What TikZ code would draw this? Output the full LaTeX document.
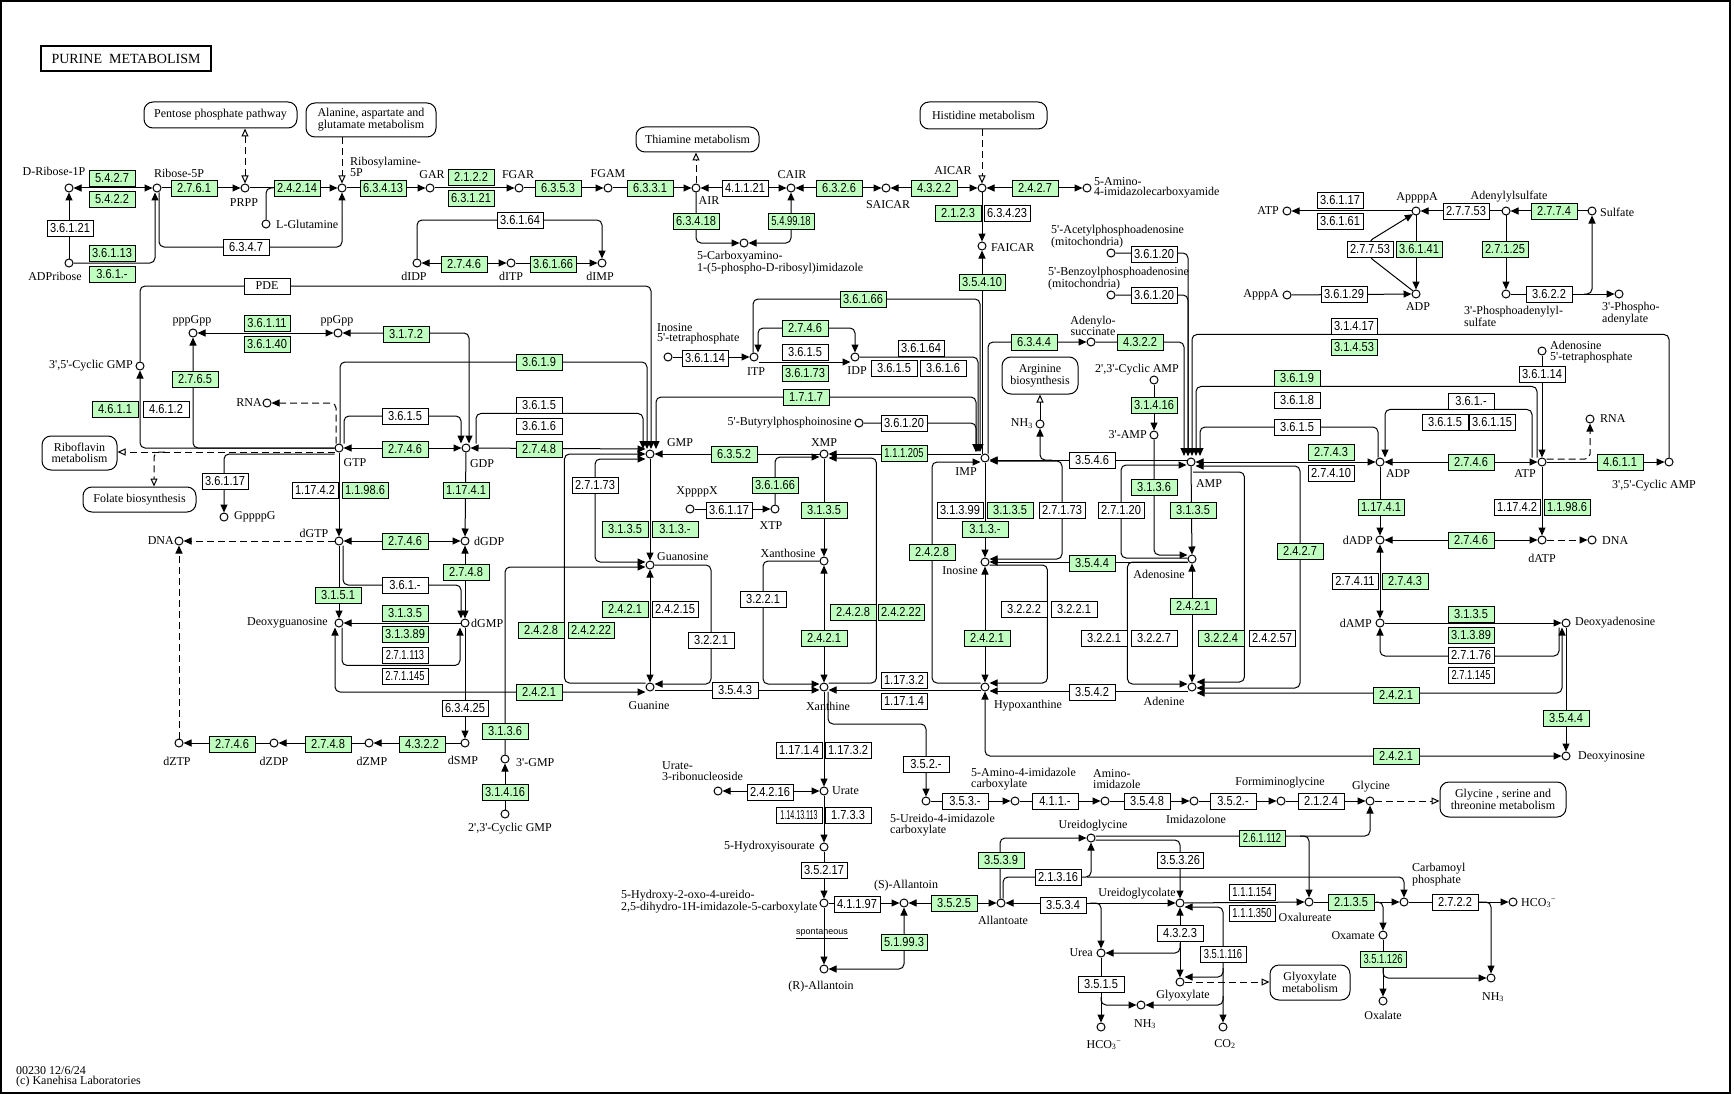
\documentclass[tikz,border=0pt]{standalone}
\usepackage{fontspec}
\setmainfont{Liberation Serif}[Ligatures=TeXOff]
\newfontfamily\ecfam[FakeStretch=0.85]{Liberation Sans}
\newfontfamily\ecfamn[FakeStretch=0.72]{Liberation Sans}
\newfontfamily\ecfamnn[FakeStretch=0.55]{Liberation Sans}
\newfontfamily\sansfam{Liberation Sans}
\usetikzlibrary{arrows.meta}
\definecolor{kgreen}{RGB}{191,255,191}
\pgfdeclarelayer{bg}
\pgfsetlayers{bg,main}
\newcommand\kc[3]{\node[cpd] (#1) at (#2,#3) {};}
\newcommand\kl[5]{\node[lbl,anchor=#4] (#1) at (#2,#3) {#5};}
\newcommand\ke[5]{\node[#4] (#1) at (#2,#3) {#5};}
\tikzset{
 cpd/.style={circle,draw,line width=1pt,fill=white,minimum size=8pt,inner sep=0pt},
 lbl/.style={inner sep=0pt,font=\fontsize{12}{10.5}\selectfont,align=center},
 ecb/.style={draw,line width=0.9pt,minimum width=46pt,minimum height=16pt,inner sep=0pt,font=\fontsize{13}{13}\ecfam},
 eg/.style={ecb,fill=kgreen},
 ew/.style={ecb,fill=white},
 n1/.style={font=\fontsize{13}{13}\ecfamn},
 n2/.style={font=\fontsize{13}{13}\ecfamnn},
 map/.style={draw,line width=1pt,rounded corners=9pt,fill=white,inner sep=0pt,align=center,font=\fontsize{12}{10.5}\selectfont},
 rc/.style={rounded corners=5pt},
 dsh/.style={dash pattern=on 7pt off 4pt},
 mapar/.style={-{Triangle[open,length=8pt,width=7pt]}},
 mapar2/.style={{Triangle[open,length=8pt,width=7pt]}-{Triangle[open,length=8pt,width=7pt]}},
 >={Triangle[length=8pt,width=7pt]}
}
\begin{document}
\begin{tikzpicture}[x=1pt,y=-1pt]
\useasboundingbox (0,0) rectangle (1734,1094);
\draw[line width=1.5pt] (1,1) rectangle (1730,1093);
\node[draw,line width=2pt,minimum width=170pt,minimum height=25pt,inner sep=0pt,font=\fontsize{14}{14}\selectfont] (title) at (126,58.5) {PURINE\ \ METABOLISM};
\node[lbl,anchor=west,align=left] (foot) at (16,1077) {00230 12/6/24\\(c) Kanehisa Laboratories};
% maps
\node[map,minimum width=153pt,minimum height=26pt] (ppp) at (220.5,115) {Pentose phosphate pathway};
\node[map,minimum width=130pt,minimum height=34pt] (ala) at (371,120) {Alanine, aspartate and\\glutamate metabolism};
\node[map,minimum width=123pt,minimum height=25pt] (thi) at (697.5,139.5) {Thiamine metabolism};
\node[map,minimum width=127pt,minimum height=27pt] (his) at (983.5,115.5) {Histidine metabolism};
\node[map,minimum width=75pt,minimum height=34pt] (ribo) at (79.5,453) {Riboflavin\\metabolism};
\node[map,minimum width=113pt,minimum height=25pt] (fol) at (139.5,499.5) {Folate biosynthesis};
\node[map,minimum width=76pt,minimum height=37pt] (arg) at (1040,375.5) {Arginine\\biosynthesis};
\node[map,minimum width=126pt,minimum height=35pt] (glym) at (1503,799.5) {Glycine , serine and\\threonine metabolism};
\node[map,minimum width=80pt,minimum height=35pt] (glx) at (1310,982.5) {Glyoxylate\\metabolism};
% compounds
\kc{dr1p}{69}{188} \kl{dr1pL}{54}{171}{center}{D-Ribose-1P}
\kc{r5p}{157}{188} \kl{r5pL}{179}{173}{center}{Ribose-5P}
\kc{prpp}{245}{188} \kl{prppL}{244}{203}{center}{PRPP}
\kc{ra5p}{342}{188} \kl{ra5pL}{350}{167}{west,align=left}{Ribosylamine-\\5P}
\kc{lglut}{266}{224} \kl{lglutL}{276}{224}{west}{L-Glutamine}
\kc{gar}{430}{188} \kl{garL}{432}{175}{center}{GAR}
\kc{fgar}{519}{188} \kl{fgarL}{518}{175}{center}{FGAR}
\kc{fgam}{608}{188} \kl{fgamL}{608}{174}{center}{FGAM}
\kc{air}{696}{188} \kl{airL}{709}{201}{center}{AIR}
\kc{cair}{791}{188} \kl{cairL}{792}{175}{center}{CAIR}
\kc{saicar}{886}{188} \kl{saicarL}{888}{205}{center}{SAICAR}
\kc{aicar}{982}{188} \kl{aicarL}{953}{171}{center}{AICAR}
\kc{aica}{1087}{188} \kl{aicaL}{1094}{188}{west,align=left}{5-Amino-\\4-imidazolecarboxyamide}
\kc{faicar}{982}{246} \kl{faicarL}{991}{248}{west}{FAICAR}
\kc{caair}{744}{243} \kl{caairL}{697}{263}{west,align=left}{5-Carboxyamino-\\1-(5-phospho-D-ribosyl)imidazole}
\kc{adpr}{69}{263} \kl{adprL}{55}{276}{center}{ADPribose}
\kc{didp}{417}{263} \kl{didpL}{414}{276}{center}{dIDP}
\kc{ditp}{511}{263} \kl{ditpL}{511}{276}{center}{dITP}
\kc{dimp}{602}{263} \kl{dimpL}{600}{276}{center}{dIMP}
\kc{pppgpp}{193}{333} \kl{pppgppL}{192}{321}{center}{pppGpp}
\kc{ppgpp}{338}{333} \kl{ppgppL}{337}{321}{center}{ppGpp}
\kc{cgmp}{140}{366} \kl{cgmpL}{133}{366}{east}{3',5'-Cyclic GMP}
\kc{rnaA}{267}{403} \kl{rnaAL}{262}{403}{east}{RNA}
\kc{gtp}{339}{448} \kl{gtpL}{355}{463}{center}{GTP}
\kc{gdp}{466}{448} \kl{gdpL}{482}{464}{center}{GDP}
\kc{gppppg}{224}{517} \kl{gppppgL}{234}{517}{west}{GppppG}
\kc{dgtp}{339}{541} \kl{dgtpL}{314}{533}{center}{dGTP}
\kc{dnaA}{179}{541} \kl{dnaAL}{174}{541}{east}{DNA}
\kc{dgdp}{465}{541} \kl{dgdpL}{474}{541}{west}{dGDP}
\kc{dgua}{339}{623} \kl{dguaL}{328}{623}{east}{Deoxyguanosine}
\kc{dgmp}{465}{623} \kl{dgmpL}{471}{623}{west}{dGMP}
\kc{gmp}{650}{454} \kl{gmpL}{680}{443}{center}{GMP}
\kc{guo}{650}{565} \kl{guoL}{657}{557}{west}{Guanosine}
\kc{gua}{650}{687} \kl{guaL}{649}{706}{center}{Guanine}
\kc{xmp}{824}{454} \kl{xmpL}{824}{443}{center}{XMP}
\kc{xtp}{775}{509} \kl{xtpL}{771}{526}{center}{XTP}
\kc{xppppx}{690}{509} \kl{xppppxL}{697}{492}{center}{XppppX}
\kc{xao}{824}{561} \kl{xaoL}{788}{553}{center}{Xanthosine}
\kc{xan}{824}{687} \kl{xanL}{828}{706}{center}{Xanthine}
\kc{itpf}{668}{357} \kl{itpfL}{657}{334}{west,align=left}{Inosine\\5'-tetraphosphate}
\kc{itp}{754}{357} \kl{itpL}{756}{372}{center}{ITP}
\kc{idp}{855}{357} \kl{idpL}{857}{371}{center}{IDP}
\kc{bpi}{859}{423} \kl{bpiL}{852}{423}{east}{5'-Butyrylphosphoinosine}
\kc{imp}{985}{458} \kl{impL}{966}{472}{center}{IMP}
\kc{ino}{985}{562} \kl{inoL}{960}{571}{center}{Inosine}
\kc{hyp}{985}{687} \kl{hypL}{1028}{706}{center}{Hypoxanthine}
\kc{nhA}{1040}{424} \kl{nhAL}{1033}{424}{east}{NH\textsubscript{3}}
\kc{campb}{1154}{380} \kl{campbL}{1137}{370}{center}{2',3'-Cyclic AMP}
\kc{ampt}{1154}{435} \kl{amptL}{1147}{435}{east}{3'-AMP}
\kc{amp}{1191}{462} \kl{ampL}{1209}{484}{center}{AMP}
\kc{ado}{1192}{559} \kl{adoL}{1159}{574}{center}{Adenosine}
\kc{ade}{1192}{687} \kl{adeL}{1164}{701}{center}{Adenine}
\kc{adsucc}{1091}{342} \kl{adsuccL}{1093}{326}{center}{Adenylo-\\succinate}
\kc{acpa}{1111}{253} \kl{acpaL}{1051}{237}{west,align=left}{5'-Acetylphosphoadenosine\\(mitochondria)}
\kc{bzpa}{1111}{295} \kl{bzpaL}{1048}{279}{west,align=left}{5'-Benzoylphosphoadenosine\\(mitochondria)}
\kc{atpA}{1287}{211} \kl{atpAL}{1279}{211}{east}{ATP}
\kc{appppa}{1416}{211} \kl{appppaL}{1417}{198}{center}{AppppA}
\kc{aps}{1506}{211} \kl{apsL}{1509}{197}{center}{Adenylylsulfate}
\kc{sulf}{1592}{211} \kl{sulfL}{1600}{212}{west}{Sulfate}
\kc{apppa}{1287}{295} \kl{apppaL}{1279}{295}{east}{ApppA}
\kc{adpA}{1416}{294} \kl{adpAL}{1418}{307}{center}{ADP}
\kc{paps}{1506}{294} \kl{papsL}{1464}{316}{west,align=left}{3'-Phosphoadenylyl-\\sulfate}
\kc{pap}{1619}{294} \kl{papL}{1602}{314}{west,align=left}{3'-Phospho-\\adenylate}
\kc{apf}{1542}{351} \kl{apfL}{1550}{352}{west,align=left}{Adenosine\\5'-tetraphosphate}
\kc{adp}{1380}{462} \kl{adpL}{1398}{474}{center}{ADP}
\kc{atp}{1542}{462} \kl{atpL}{1525}{474}{center}{ATP}
\kc{rnaB}{1590}{419} \kl{rnaBL}{1600}{419}{west}{RNA}
\kc{camp}{1669}{462} \kl{campL}{1654}{486}{center}{3',5'-Cyclic AMP}
\kc{dadp}{1380}{540} \kl{dadpL}{1373}{540}{east}{dADP}
\kc{datp}{1542}{540} \kl{datpL}{1542}{558}{center}{dATP}
\kc{dnaB}{1592}{540} \kl{dnaBL}{1602}{541}{west}{DNA}
\kc{damp}{1380}{623} \kl{dampL}{1372}{623}{east}{dAMP}
\kc{dado}{1566}{623} \kl{dadoL}{1575}{623}{west}{Deoxyadenosine}
\kc{dino}{1566}{756} \kl{dinoL}{1578}{757}{west}{Deoxyinosine}
\kc{dztp}{179}{743} \kl{dztpL}{177}{761}{center}{dZTP}
\kc{dzdp}{274}{743} \kl{dzdpL}{274}{761}{center}{dZDP}
\kc{dzmp}{369}{743} \kl{dzmpL}{372}{761}{center}{dZMP}
\kc{dsmp}{465}{743} \kl{dsmpL}{463}{760}{center}{dSMP}
\kc{gmpt}{505}{759} \kl{gmptL}{516}{763}{west}{3'-GMP}
\kc{cgmpb}{505}{814} \kl{cgmpbL}{510}{829}{center}{2',3'-Cyclic GMP}
\kc{urate}{824}{791} \kl{urateL}{832}{791}{west}{Urate}
\kc{utr}{718}{791} \kl{utrL}{662}{771}{west,align=left}{Urate-\\3-ribonucleoside}
\kc{hiu}{824}{847} \kl{hiuL}{815}{847}{east}{5-Hydroxyisourate}
\kc{ohcu}{824}{903} \kl{ohcuL}{621}{902}{west,align=left}{5-Hydroxy-2-oxo-4-ureido-\\2,5-dihydro-1H-imidazole-5-carboxylate}
\kc{rall}{824}{969} \kl{rallL}{821}{987}{center}{(R)-Allantoin}
\kc{sall}{904}{903} \kl{sallL}{906}{886}{center}{(S)-Allantoin}
\kc{uic}{926}{801} \kl{uicL}{890}{825}{west,align=left}{5-Ureido-4-imidazole\\carboxylate}
\kc{aic}{1015}{801} \kl{aicL}{971}{779}{west,align=left}{5-Amino-4-imidazole\\carboxylate}
\kc{aimid}{1105}{801} \kl{aimidL}{1093}{779}{west,align=left}{Amino-\\imidazole}
\kc{imidz}{1194}{801} \kl{imidzL}{1196}{819}{center}{Imidazolone}
\kc{fgly}{1281}{801} \kl{fglyL}{1280}{783}{center}{Formiminoglycine}
\kc{gly}{1370}{801} \kl{glyL}{1371}{787}{center}{Glycine}
\kc{ugly}{1091}{838} \kl{uglyL}{1093}{826}{center}{Ureidoglycine}
\kc{allt}{1001}{903} \kl{alltL}{1003}{920}{center}{Allantoate}
\kc{uglc}{1180}{903} \kl{uglcL}{1137}{894}{center}{Ureidoglycolate}
\kc{urea}{1101}{953} \kl{ureaL}{1093}{953}{east}{Urea}
\kc{glyox}{1180}{982} \kl{glyoxL}{1183}{996}{center}{Glyoxylate}
\kc{nhB}{1141}{1005} \kl{nhBL}{1145}{1024}{center}{NH\textsubscript{3}}
\kc{hcoA}{1101}{1027} \kl{hcoAL}{1104}{1045}{center}{HCO\textsubscript{3}\textsuperscript{−}}
\kc{co}{1223}{1027} \kl{coL}{1225}{1044}{center}{CO\textsubscript{2}}
\kc{oxalu}{1309}{902} \kl{oxaluL}{1305}{917}{center}{Oxalureate}
\kc{carbp}{1404}{902} \kl{carbpL}{1412}{875}{west,align=left}{Carbamoyl\\phosphate}
\kc{hcoB}{1513}{902} \kl{hcoBL}{1521}{903}{west}{HCO\textsubscript{3}\textsuperscript{−}}
\kc{oxam}{1383}{935} \kl{oxamL}{1375}{936}{east}{Oxamate}
\kc{oxal}{1383}{1001} \kl{oxalL}{1383}{1015}{center}{Oxalate}
\kc{nhC}{1491}{978} \kl{nhCL}{1493}{997}{center}{NH\textsubscript{3}}
% enzymes
\ke{e1}{112}{178}{eg}{5.4.2.7}
\ke{e2}{112}{199}{eg}{5.4.2.2}
\ke{e3}{194}{188}{eg}{2.7.6.1}
\ke{e4}{297}{188}{eg}{2.4.2.14}
\ke{e5}{383}{188}{eg}{6.3.4.13}
\ke{e6}{471}{177}{eg}{2.1.2.2}
\ke{e7}{471}{198}{eg}{6.3.1.21}
\ke{e8}{558}{188}{eg}{6.3.5.3}
\ke{e9}{650}{188}{eg}{6.3.3.1}
\ke{e10}{745}{188}{ew}{4.1.1.21}
\ke{e11}{839}{188}{eg}{6.3.2.6}
\ke{e12}{934}{188}{eg}{4.3.2.2}
\ke{e13}{1035}{188}{eg}{2.4.2.7}
\ke{e14}{958}{213}{eg}{2.1.2.3}
\ke{e15}{1007}{213}{ew}{6.3.4.23}
\ke{e16}{696}{221}{eg}{6.3.4.18}
\ke{e17}{791}{221}{eg,n1}{5.4.99.18}
\ke{e18}{70}{228}{ew}{3.6.1.21}
\ke{e19}{112}{253}{eg}{3.6.1.13}
\ke{e20}{112}{274}{eg}{3.6.1.-}
\ke{e21}{246}{247}{ew}{6.3.4.7}
\ke{e22}{520}{220}{ew}{3.6.1.64}
\ke{e23}{464}{264}{eg}{2.7.4.6}
\ke{e24}{553}{264}{eg}{3.6.1.66}
\ke{e25}{982}{282}{eg}{3.5.4.10}
\ke{e26}{1154}{254}{ew}{3.6.1.20}
\ke{e27}{1154}{295}{ew}{3.6.1.20}
\ke{e28}{1034}{342}{eg}{6.3.4.4}
\ke{e29}{1140}{342}{eg}{4.3.2.2}
\ke{e30}{1340}{200}{ew}{3.6.1.17}
\ke{e31}{1340}{221}{ew}{3.6.1.61}
\ke{e32}{1466}{211}{ew}{2.7.7.53}
\ke{e33}{1554}{211}{eg}{2.7.7.4}
\ke{e34}{1370}{249}{ew}{2.7.7.53}
\ke{e35}{1419}{249}{eg}{3.6.1.41}
\ke{e36}{1505}{249}{eg}{2.7.1.25}
\ke{e37}{1344}{294}{ew}{3.6.1.29}
\ke{e38}{1549}{294}{ew}{3.6.2.2}
\ke{e39}{1354}{326}{ew}{3.1.4.17}
\ke{e40}{1354}{347}{eg}{3.1.4.53}
\node[ew,font=\fontsize{12}{12}\selectfont] (pde) at (267,286) {PDE};
\ke{e41}{267}{323}{eg}{3.6.1.11}
\ke{e42}{267}{344}{eg}{3.6.1.40}
\ke{e43}{406}{334}{eg}{3.1.7.2}
\ke{e44}{863}{299}{eg}{3.6.1.66}
\ke{e45}{805}{328}{eg}{2.7.4.6}
\ke{e46}{805}{352}{ew}{3.6.1.5}
\ke{e47}{805}{373}{eg}{3.6.1.73}
\ke{e48}{705}{358}{ew}{3.6.1.14}
\ke{e49}{921}{348}{ew}{3.6.1.64}
\ke{e50}{894}{368}{ew}{3.6.1.5}
\ke{e51}{943}{368}{ew}{3.6.1.6}
\ke{e52}{539}{362}{eg}{3.6.1.9}
\ke{e53}{195}{379}{eg}{2.7.6.5}
\ke{e54}{115}{409}{eg}{4.6.1.1}
\ke{e55}{166}{409}{ew}{4.6.1.2}
\ke{e56}{405}{416}{ew}{3.6.1.5}
\ke{e57}{405}{449}{eg}{2.7.4.6}
\ke{e58}{539}{405}{ew}{3.6.1.5}
\ke{e59}{539}{426}{ew}{3.6.1.6}
\ke{e60}{539}{449}{eg}{2.7.4.8}
\ke{e61}{806}{397}{eg}{1.7.1.7}
\ke{e62}{904}{423}{ew}{3.6.1.20}
\ke{e63}{904}{453}{eg,n1}{1.1.1.205}
\ke{e64}{734}{454}{eg}{6.3.5.2}
\ke{e65}{225}{481}{ew}{3.6.1.17}
\ke{e66}{315}{490}{ew}{1.17.4.2}
\ke{e67}{365}{490}{eg}{1.1.98.6}
\ke{e68}{466}{490}{eg}{1.17.4.1}
\ke{e69}{775}{485}{eg}{3.6.1.66}
\ke{e70}{595}{485}{ew}{2.7.1.73}
\ke{e71}{729}{510}{ew}{3.6.1.17}
\ke{e72}{824}{510}{eg}{3.1.3.5}
\ke{e73}{625}{529}{eg}{3.1.3.5}
\ke{e74}{675}{529}{eg}{3.1.3.-}
\ke{e75}{405}{541}{eg}{2.7.4.6}
\ke{e76}{466}{572}{eg}{2.7.4.8}
\ke{e77}{405}{585}{ew}{3.6.1.-}
\ke{e78}{338}{595}{eg}{3.1.5.1}
\ke{e79}{763}{599}{ew}{3.2.2.1}
\ke{e80}{405}{613}{eg}{3.1.3.5}
\ke{e81}{405}{634}{eg}{3.1.3.89}
\ke{e82}{405}{655}{ew,n1}{2.7.1.113}
\ke{e83}{405}{676}{ew,n1}{2.7.1.145}
\ke{e84}{625}{609}{eg}{2.4.2.1}
\ke{e85}{675}{609}{ew}{2.4.2.15}
\ke{e86}{541}{630}{eg}{2.4.2.8}
\ke{e87}{591}{630}{eg}{2.4.2.22}
\ke{e88}{711}{640}{ew}{3.2.2.1}
\ke{e89}{824}{638}{eg}{2.4.2.1}
\ke{e90}{853}{612}{eg}{2.4.2.8}
\ke{e91}{901}{612}{eg}{2.4.2.22}
\ke{e92}{539}{692}{eg}{2.4.2.1}
\ke{e93}{735}{690}{ew}{3.5.4.3}
\ke{e94}{465}{708}{ew}{6.3.4.25}
\ke{e95}{505}{731}{eg}{3.1.3.6}
\ke{e96}{505}{792}{eg}{3.1.4.16}
\ke{e97}{232}{744}{eg}{2.7.4.6}
\ke{e98}{328}{744}{eg}{2.7.4.8}
\ke{e99}{422}{744}{eg}{4.3.2.2}
\ke{e100}{932}{552}{eg}{2.4.2.8}
\ke{e101}{960}{510}{ew}{3.1.3.99}
\ke{e102}{1010}{510}{eg}{3.1.3.5}
\ke{e103}{985}{529}{eg}{3.1.3.-}
\ke{e104}{1062}{510}{ew}{2.7.1.73}
\ke{e105}{1092}{460}{ew}{3.5.4.6}
\ke{e106}{1154}{405}{eg}{3.1.4.16}
\ke{e107}{1154}{487}{eg}{3.1.3.6}
\ke{e108}{1121}{510}{ew}{2.7.1.20}
\ke{e109}{1193}{510}{eg}{3.1.3.5}
\ke{e110}{1092}{563}{eg}{3.5.4.4}
\ke{e111}{987}{638}{eg}{2.4.2.1}
\ke{e112}{1024}{609}{ew}{3.2.2.2}
\ke{e113}{1074}{609}{ew}{3.2.2.1}
\ke{e114}{1092}{692}{ew}{3.5.4.2}
\ke{e115}{904}{680}{ew}{1.17.3.2}
\ke{e116}{904}{701}{ew}{1.17.1.4}
\ke{e117}{1193}{606}{eg}{2.4.2.1}
\ke{e118}{1104}{638}{ew}{3.2.2.1}
\ke{e119}{1154}{638}{ew}{3.2.2.7}
\ke{e120}{1221}{638}{eg}{3.2.2.4}
\ke{e121}{1272}{638}{ew}{2.4.2.57}
\ke{e122}{1300}{551}{eg}{2.4.2.7}
\ke{e123}{1297}{378}{eg}{3.6.1.9}
\ke{e124}{1297}{400}{ew}{3.6.1.8}
\ke{e125}{1297}{427}{ew}{3.6.1.5}
\ke{e126}{1331}{452}{eg}{2.7.4.3}
\ke{e127}{1331}{473}{ew}{2.7.4.10}
\ke{e128}{1471}{462}{eg}{2.7.4.6}
\ke{e129}{1471}{401}{ew}{3.6.1.-}
\ke{e130}{1445}{422}{ew}{3.6.1.5}
\ke{e131}{1492}{422}{ew}{3.6.1.15}
\ke{e132}{1542}{374}{ew}{3.6.1.14}
\ke{e133}{1620}{462}{eg}{4.6.1.1}
\ke{e134}{1381}{507}{eg}{1.17.4.1}
\ke{e135}{1517}{507}{ew}{1.17.4.2}
\ke{e136}{1567}{507}{eg}{1.1.98.6}
\ke{e137}{1471}{540}{eg}{2.7.4.6}
\ke{e138}{1355}{581}{ew}{2.7.4.11}
\ke{e139}{1405}{581}{eg}{2.7.4.3}
\ke{e140}{1471}{614}{eg}{3.1.3.5}
\ke{e141}{1471}{635}{eg}{3.1.3.89}
\ke{e142}{1471}{655}{ew}{2.7.1.76}
\ke{e143}{1471}{675}{ew,n1}{2.7.1.145}
\ke{e144}{1396}{695}{eg}{2.4.2.1}
\ke{e145}{1566}{718}{eg}{3.5.4.4}
\ke{e146}{1396}{756}{eg}{2.4.2.1}
\ke{e147}{799}{750}{ew}{1.17.1.4}
\ke{e148}{848}{750}{ew}{1.17.3.2}
\ke{e149}{926}{764}{ew}{3.5.2.-}
\ke{e150}{770}{792}{ew}{2.4.2.16}
\ke{e151}{799}{815}{ew,n2}{1.14.13.113}
\ke{e152}{848}{815}{ew}{1.7.3.3}
\ke{e153}{824}{870}{ew}{3.5.2.17}
\ke{e154}{857}{904}{ew}{4.1.1.97}
\ke{e155}{904}{942}{eg}{5.1.99.3}
\ke{e156}{954}{903}{eg}{3.5.2.5}
\ke{e157}{965}{801}{ew}{3.5.3.-}
\ke{e158}{1055}{801}{ew}{4.1.1.-}
\ke{e159}{1147}{801}{ew}{3.5.4.8}
\ke{e160}{1233}{801}{ew}{3.5.2.-}
\ke{e161}{1321}{801}{ew}{2.1.2.4}
\ke{e162}{1001}{860}{eg}{3.5.3.9}
\ke{e163}{1058}{877}{ew}{2.1.3.16}
\ke{e164}{1180}{860}{ew}{3.5.3.26}
\ke{e165}{1262}{838}{eg,n1}{2.6.1.112}
\ke{e166}{1063}{905}{ew}{3.5.3.4}
\ke{e167}{1252}{892}{ew,n1}{1.1.1.154}
\ke{e168}{1252}{913}{ew,n1}{1.1.1.350}
\ke{e169}{1180}{933}{ew}{4.3.2.3}
\ke{e170}{1223}{954}{ew,n1}{3.5.1.116}
\ke{e171}{1101}{984}{ew}{3.5.1.5}
\ke{e172}{1351}{902}{eg}{2.1.3.5}
\ke{e173}{1455}{902}{ew}{2.7.2.2}
\ke{e174}{1383}{959}{eg,n1}{3.5.1.126}
\node[inner sep=0pt,font=\fontsize{9}{9}\sansfam] (spont) at (822,934) {\underline{spontaneous}};
% junction coordinates
\coordinate (gmpTa) at (643,449); \coordinate (gmpTb) at (647,449);
\coordinate (gmpTc) at (651,449); \coordinate (gmpTd) at (656,449);
\coordinate (impTa) at (980,452); \coordinate (impTb) at (978,452); \coordinate (impTc) at (976,452);
\coordinate (ampTa) at (1184,456); \coordinate (ampTb) at (1188,456); \coordinate (ampTc) at (1192,456);
\coordinate (ampTd) at (1196,456); \coordinate (ampTe) at (1200,456);
\coordinate (folj) at (165,452); \coordinate (ampj) at (1193,472); \coordinate (nhj) at (1052,460);
\coordinate (papj) at (1584,294); \coordinate (ureaj) at (1090,903); \coordinate (jA) at (1087,877);
\coordinate (jB) at (1300,836); \coordinate (jC) at (1376,902); \coordinate (jD) at (1383,968);
\coordinate (jE) at (1479,902); \coordinate (jF) at (1180,943); \coordinate (jG) at (1223,968);
\coordinate (jH) at (1223,996); \coordinate (jI) at (1101,997);
\begin{pgfonlayer}{bg}
\begin{scope}[line width=1pt]
% top row
\draw[<->] (dr1p) -- (r5p);
\draw[->] (r5p) -- (prpp);
\draw[->] (prpp) -- (ra5p);
\draw[rc] (lglut) |- (e4.west);
\draw[->] (ra5p) -- (gar);
\draw[->] (gar) -- (fgar);
\draw[->] (fgar) -- (fgam);
\draw[->] (fgam) -- (air);
\draw[<->] (air) -- (cair);
\draw[<->] (cair) -- (saicar);
\draw[<->] (saicar) -- (aicar);
\draw[<->] (aicar) -- (aica);
\draw[->] (aicar) -- (faicar);
\draw[->] ([xshift=-3pt]imp.north) -- (faicar);
\draw[->,rc] (air) |- (caair);
\draw[<->,rc] (cair) |- (caair);
\draw[dsh,mapar] (air) -- (air |- thi.south);
\draw[dsh,mapar2] (prpp |- ppp.south) -- (prpp);
\draw[dsh,mapar] (ra5p |- ala.south) -- (ra5p);
\draw[dsh,mapar] (aicar |- his.south) -- (aicar);
\draw[->] (adpr) -- (dr1p);
\draw[->,rc] (adpr) -| ([xshift=-2pt]r5p.south);
\draw[->,rc] ([xshift=2pt]r5p.south) |- (e21.center) -| (ra5p);
\draw[<->] (didp) -- (ditp);
\draw[->] (ditp) -- (dimp);
\draw[->,rc] (didp) |- (e22.center) -| (dimp);
\draw[<->] (pppgpp) -- (ppgpp);
\draw[<->,rc] (ppgpp) -| ([xshift=3pt]gdp.north);
% GTP / GMP
\draw[->,rc] (gtp) -| (cgmp);
\draw[->,rc] (gtp) -| (pppgpp);
\draw[dsh,->,rc] ([xshift=-3pt]gtp.north) |- (rnaA);
\draw[dsh,mapar] ([yshift=-4pt]gtp.west) -- ([yshift=-4pt]gtp.west -| ribo.east);
\draw[dsh,mapar,rc] (folj) -| ([xshift=14.5pt]fol.north);
\draw[->,rc] ([yshift=-6pt]gtp.west) -| (gppppg);
\draw[<->] (gtp) -- (gdp);
\draw[->,rc] ([xshift=5pt]gtp.north) |- (e56.center) -| ([xshift=-5pt]gdp.north);
\draw[->,rc] ([xshift=10pt]gdp.north) |- (gmpTa |- e58.south) -- (gmpTa);
\draw[<->] (gdp) -- ([yshift=5pt]gmp.west);
\draw[->,rc] ([xshift=1pt]gtp.north) |- (e52.center) -| (gmpTb);
\draw[->,rc] (cgmp) |- (pde.center) -| (gmpTc);
\draw[<->,rc] (gmpTd) |- (e61.center) -| (impTc);
\draw[->] (xmp) -- (gmp);
\draw[->,rc] (xtp) |- ([yshift=-3pt]xmp.west);
\draw[->] (xppppx) -- (xtp);
\draw[->] (xmp) -- (xao);
\draw[<->] (xao) -- (xan);
\draw[->,rc] (xao) -| (e79.center) |- ([yshift=3pt]xan.west);
\draw[->] ([yshift=-3pt]gua.east) -- ([yshift=-3pt]xan.west);
\draw[->] (gmp) -- (guo);
\draw[<->] (guo) -- (gua);
\draw[->,rc] (guo) -| (e88.center) |- ([yshift=3pt]gua.east);
\draw[<->,rc] ([yshift=3pt]guo.west) -| (e70.center) |- ([yshift=-5pt]gmp.west);
\draw[->,rc] ([yshift=4pt]gua.west) -| (e86.east) |- (gmp.west);
\draw[<->,rc] ([yshift=-5pt]gua.west) -| ([xshift=-4pt]dgua.south);
\draw[->,rc] (gmpt) |- ([yshift=-2pt]guo.west);
\draw[->] (cgmpb) -- (gmpt);
\draw[->] (gdp) -- (dgdp);
\draw[->] (gtp) -- (dgtp);
\draw[dsh,->] (dgtp) -- (dnaA);
\draw[<->] (dgtp) -- (dgdp);
\draw[->,rc] ([xshift=4pt]dgtp.south) |- (e77.center) -| ([xshift=-4pt]dgmp.north);
\draw[->] (dgtp) -- (dgua);
\draw[<->] (dgdp) -- (dgmp);
\draw[->] (dgmp) -- (dgua);
\draw[->,rc] ([xshift=3pt]dgua.south) |- ([yshift=-2pt]e82.south) -| ([xshift=-5pt]dgmp.south);
\draw[->] (dgmp) -- (dsmp);
\draw[->] (dsmp) -- (dzmp);
\draw[->] (dzmp) -- (dzdp);
\draw[->] (dzdp) -- (dztp);
\draw[dsh,->] (dztp) -- (dnaA);
% xanthine / urate
\draw[->] (xan) -- (urate);
\draw[->,rc] ([xshift=4pt]xan.south) |- ([yshift=40pt]e149.center) -- (uic);
\draw[<-,rc] ([yshift=-4pt]xmp.east) -| (e90.east) |- ([yshift=4pt]xan.east);
\draw[->] ([yshift=4pt]imp.west) -- (xmp.east);
\draw[->] ([yshift=-3pt]hyp.west) -- ([yshift=-3pt]xan.east);
% IMP block
\draw[->,rc] ([yshift=4pt]hyp.west) -| (e100.center) |- ([yshift=-4pt]imp.west);
\draw[<->] (hyp) -- (ino);
\draw[->] (imp) -- (ino);
\draw[<->,rc] ([yshift=3pt]ino.east) -| (e104.center) |- ([yshift=-3pt]imp.east);
\draw[->,rc] ([yshift=-3pt]ino.east) -| (e112.east) |- ([yshift=4pt]hyp.east);
\draw[->] ([yshift=-4pt]ade.west) -- ([yshift=-4pt]hyp.east);
\draw[->] ([yshift=-3pt]ado.west) -- (ino.east);
\draw[->] (amp) -- (ado);
\draw[->,rc] ([yshift=1pt]ado.west) -| (e108.center) |- ([yshift=-3pt]amp.west);
\draw[->,rc] (ampt) |- ([yshift=4pt]ado.west);
\draw[<->] (ado) -- (ade);
\draw[->,rc] ([yshift=-3pt]ado.west) -| (e118.east) |- ([yshift=3pt]ade.west);
\draw[->,rc] (ampj) -| (e120.east) |- ([yshift=5pt]ade.east);
\draw[<->,rc] ([yshift=-1pt]ade.east) -| (e122.center) |- ([yshift=-4pt]amp.east);
\draw[->] ([yshift=2pt]amp.west) -- ([yshift=-2pt]imp.east);
\draw[->,rc] (nhj) -| (nhA);
\draw[mapar] (nhA) -- (nhA |- arg.south);
\draw[->] (campb) -- (ampt);
\draw[->,rc] ([xshift=3pt]imp.north) |- (adsucc);
\draw[->,rc] (adsucc) -| (ampTa);
\draw[->,rc] (acpa) -| (ampTb);
\draw[->,rc] (bzpa) -| (ampTb);
\draw[->,rc] (camp) |- (ampTc |- e39.south) -- (ampTc);
\draw[->,rc] ([xshift=-5pt]atp.north) |- (ampTd |- e123.south) -- (ampTd);
\draw[->,rc] ([xshift=-2pt]adp.north) |- (e125.center) -| (ampTe);
\draw[->,rc] ([xshift=-10pt]atp.north) |- (e129.south) -| ([xshift=5pt]adp.north);
\draw[<->] (adp) -- (atp);
\draw[<->] (amp) -- (adp);
\draw[->] (apf) -- (atp);
\draw[dsh,->,rc] ([yshift=3pt]atp.east) -| (rnaB);
\draw[->] (atp) -- (camp);
\draw[->] (adp) -- (dadp);
\draw[->] (atp) -- (datp);
\draw[<->] (dadp) -- (datp);
\draw[dsh,->] (datp) -- (dnaB);
\draw[<->] (dadp) -- (damp);
\draw[->] (damp) -- (dado);
\draw[->,rc] ([xshift=-7pt]dado.south) |- ([yshift=-1pt]e142.center) -| (damp);
\draw[<->,rc] ([yshift=-6pt]ade.east) -| ([xshift=-4pt]dado.south);
\draw[->] (dado) -- (dino);
\draw[<->,rc] (hyp) |- (dino);
% ITP
\draw[->] (itpf) -- (itp);
\draw[->] ([yshift=-5pt]itp.east) -- ([yshift=-5pt]idp.west);
\draw[<->,rc] ([xshift=4pt]itp.north) |- (e45.center) -| (idp);
\draw[->,rc] ([xshift=-1pt]itp.north) |- (e44.center) -| (impTa);
\draw[->,rc] (idp) -| (impTb);
\draw[->,rc] (bpi) -| (impTc);
% top right
\draw[->] (sulf) -- (aps);
\draw[->] (aps) -- (appppa);
\draw[->] (appppa) -- (atpA);
\draw[->] (appppa) -- (adpA);
\draw[->,rounded corners=3pt] (adpA.north west) -- (e34.south) -- (e34.north) -- (appppa.south west);
\draw[->] (aps) -- (paps);
\draw[->] (paps) -- (pap);
\draw[->,rc] (papj) -| (sulf);
\draw[->] (apppa) -- (adpA);
% lower
\draw[<->] (utr) -- (urate);
\draw[->] (urate) -- (hiu);
\draw[->] (hiu) -- (ohcu);
\draw[->] (ohcu) -- (sall);
\draw[->] (ohcu) -- (rall);
\draw[<->,rc] (sall) |- (rall);
\draw[<->] (sall) -- (allt);
\draw[<->] (allt) -- (uglc);
\draw[->,rc] (ureaj) -| (urea);
\draw[->,rc] ([xshift=-1pt]allt.north) |- (ugly);
\draw[->,rc] ([xshift=2pt]allt.north) |- (e163.center) -| (ugly);
\draw[->,rc] (jA) -| (carbp);
\draw[->,rc] ([yshift=-2pt]ugly.east) -| (uglc);
\draw[->,rc] ([yshift=2pt]ugly.east) -| (gly);
\draw[->,rc] (jB) -| (oxalu);
\draw[->] (uglc) -- (oxalu);
\draw[->] (oxalu) -- (carbp);
\draw[->,rc] (jC) -| (oxam);
\draw[->] (oxam) -- (oxal);
\draw[->,rc] (jD) |- (nhC);
\draw[->] (carbp) -- (hcoB);
\draw[->,rc] (jE) -| (nhC);
\draw[<->] (uglc) -- (glyox);
\draw[->,rc] (jF) |- (urea);
\draw[<->,rc] ([yshift=-4pt]uglc.east) -| (co);
\draw[->,rc] (jG) |- ([yshift=5pt]glyox.east);
\draw[->,rc] (jH) |- (nhB);
\draw[->] (urea) -- (hcoA);
\draw[->,rc] (jI) |- (nhB);
\draw[dsh,mapar] (glyox) -- (glyox -| glx.west);
\draw[dsh,mapar] (gly) -- (gly -| glym.west);
\draw[->] (uic) -- (aic);
\draw[->] (aic) -- (aimid);
\draw[->] (aimid) -- (imidz);
\draw[->] (imidz) -- (fgly);
\draw[->] (fgly) -- (gly);
\end{scope}
\end{pgfonlayer}
\end{tikzpicture}
\end{document}
